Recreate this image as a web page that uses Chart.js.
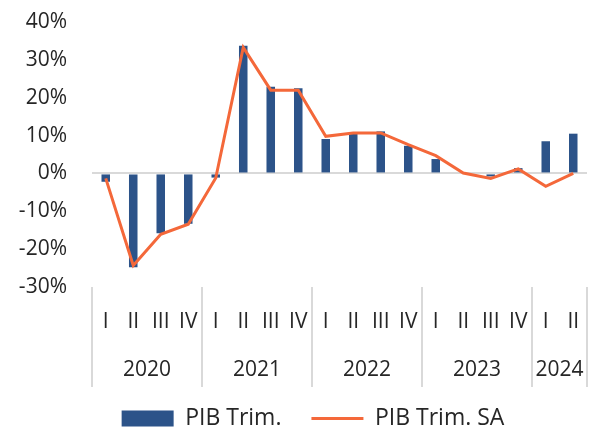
<!DOCTYPE html>
<html>
<head>
<meta charset="utf-8">
<script src="https://cdn.jsdelivr.net/npm/chart.js@4/dist/chart.umd.min.js"></script>
<style>
  html, body { margin: 0; padding: 0; background: #fff; }
  #wrap { width: 589px; height: 431px; }
</style>
</head>
<body>
<div id="wrap"><canvas id="c" width="589" height="431"></canvas></div>
<script>
// Quarterly GDP growth, 2020-I to 2024-II (percent)
const quarters = ['I','II','III','IV','I','II','III','IV','I','II','III','IV','I','II','III','IV','I','II'];
const years = ['2020','2021','2022','2023','2024'];
const quartersPerYear = [4, 4, 4, 4, 2];
const pibTrim   = [-2.2, -24.8, -15.8, -13.3, -1.1, 33.7, 22.9, 22.5, 9.1, 10.6, 11.1, 7.3, 3.8, 0.0, -0.8, 1.4, 8.5, 10.5];
const pibTrimSA = [-1.3, -24.3, -16.1, -13.4, -1.2, 33.3, 22.0, 22.0, 9.8, 10.7, 10.7, 7.6, 4.7, 0.1, -1.3, 1.2, -3.4, 0.0];
const yTicks = { min: -30, max: 40, step: 10 };

const FONT = "'Open Sans', sans-serif";
const FONT_SIZE = 21;
const TEXT = '#262626';
const GRID = '#d9d9d9';
const NONE = 'rgba(0,0,0,0)';

Chart.defaults.font.family = FONT;
Chart.defaults.font.size = FONT_SIZE;
Chart.defaults.color = TEXT;

// Year groups under the quarter labels, with separators between years
const yearAxis = {
  id: 'yearAxis',
  afterLayout(chart) {
    // centre the legend row under the plot rather than the whole canvas
    chart.legend.left = 39;
  },
  afterDraw(chart) {
    const x = chart.scales.x;
    const ctx = chart.ctx;
    const step = x.getPixelForValue(1) - x.getPixelForValue(0);
    const edge = (i) => x.getPixelForValue(i) - step / 2;
    const top = chart.chartArea.bottom;
    const bottom = top + 100;
    const bounds = [0];
    let start = 0;
    quartersPerYear.forEach(q => { start += q; bounds.push(start); });
    ctx.save();
    ctx.strokeStyle = GRID;
    ctx.lineWidth = 2;
    bounds.forEach(b => {
      const px = Math.round(edge(b));
      ctx.beginPath();
      ctx.moveTo(px, top);
      ctx.lineTo(px, bottom);
      ctx.stroke();
    });
    ctx.fillStyle = TEXT;
    ctx.font = FONT_SIZE + 'px ' + FONT;
    ctx.textAlign = 'center';
    ctx.textBaseline = 'middle';
    years.forEach((yr, k) => {
      const cx = (edge(bounds[k]) + edge(bounds[k + 1])) / 2;
      ctx.fillText(yr, cx, top + 83);
    });
    ctx.restore();
  }
};

new Chart(document.getElementById('c'), {
  data: {
    labels: quarters,
    datasets: [
      {
        type: 'bar',
        label: 'PIB Trim.',
        data: pibTrim,
        backgroundColor: '#2C5389',
        borderWidth: 0,
        barPercentage: 0.31,
        categoryPercentage: 1,
        pointStyle: 'rect',
        order: 1
      },
      {
        type: 'line',
        label: 'PIB Trim. SA',
        data: pibTrimSA,
        borderColor: '#F4683A',
        backgroundColor: '#F4683A',
        borderWidth: 3,
        pointRadius: 0,
        pointStyle: 'line',
        tension: 0,
        order: 0
      }
    ]
  },
  options: {
    responsive: false,
    animation: false,
    layout: { padding: { top: 22, right: 2, bottom: 0, left: 0 } },
    scales: {
      x: {
        grid: { display: false, drawTicks: true, tickLength: 22, tickColor: NONE },
        border: { display: false },
        ticks: { padding: 0, maxRotation: 0, autoSkip: false },
        afterFit(s) { s.height = 90; }
      },
      y: {
        min: yTicks.min,
        max: yTicks.max,
        border: { display: false },
        grid: {
          drawTicks: true,
          tickLength: 25,
          tickColor: NONE,
          lineWidth: 2,
          color: (c) => (c.tick && c.tick.value === 0 ? GRID : NONE)
        },
        ticks: {
          stepSize: yTicks.step,
          padding: 0,
          callback: (v) => v + '%'
        },
        afterFit(s) { s.width = 92; }
      }
    },
    plugins: {
      legend: {
        position: 'bottom',
        maxHeight: 54,
        labels: {
          usePointStyle: true,
          pointStyleWidth: 52,
          boxHeight: 16,
          padding: 30,
          color: TEXT,
          font: { size: 23 },
          sort: (a, b) => a.datasetIndex - b.datasetIndex
        }
      },
      tooltip: { enabled: false }
    }
  },
  plugins: [yearAxis]
});
</script>
</body>
</html>
